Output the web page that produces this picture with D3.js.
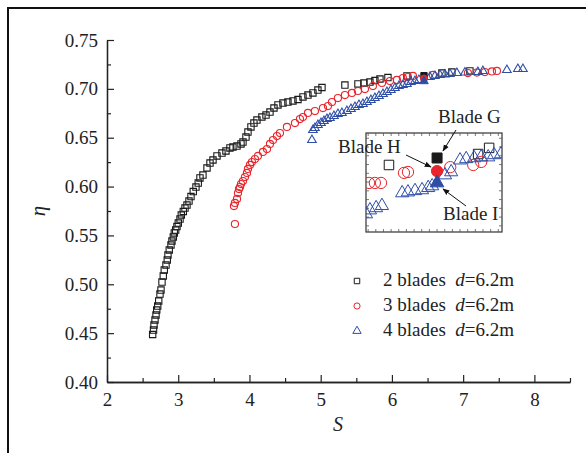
<!DOCTYPE html>
<html>
<head>
<meta charset="utf-8"/>
<script src="https://d3js.org/d3.v7.min.js"></script>
<style>
  body { margin: 0; background: #fff; }
  text { font-family: "Liberation Serif", "Times New Roman", serif; fill: #222; }
</style>
</head>
<body>
<div id="chart"></div>
<script>
// 2 blades, d = 6.2 m  [S, eta]
var twoBlades = [
  [2.641,0.4486],[2.653,0.4532],[2.660,0.4583],[2.674,0.4634],[2.688,0.4685],[2.698,0.4736],
  [2.712,0.4777],[2.726,0.4829],[2.744,0.4900],[2.758,0.4941],[2.772,0.5023],[2.790,0.5084],
  [2.804,0.5146],[2.828,0.5197],[2.846,0.5248],[2.856,0.5299],[2.874,0.5351],[2.898,0.5402],
  [2.912,0.5443],[2.931,0.5484],[2.945,0.5525],[2.964,0.5555],[2.982,0.5591],[3.001,0.5627],
  [3.025,0.5668],[3.043,0.5709],[3.071,0.5745],[3.095,0.5780],[3.123,0.5811],[3.151,0.5852],
  [3.179,0.5898],[3.211,0.5949],[3.249,0.5995],[3.281,0.6036],[3.305,0.6088],[3.347,0.6118],
  [3.404,0.6190],[3.446,0.6241],[3.488,0.6272],[3.544,0.6313],[3.614,0.6343],[3.670,0.6364],
  [3.726,0.6395],[3.768,0.6405],[3.825,0.6415],[3.881,0.6436],[3.909,0.6456],[3.951,0.6507],
  [3.979,0.6558],[4.021,0.6610],[4.063,0.6650],[4.105,0.6681],[4.175,0.6712],[4.232,0.6732],
  [4.288,0.6763],[4.344,0.6804],[4.400,0.6835],[4.470,0.6855],[4.540,0.6865],[4.611,0.6876],
  [4.681,0.6891],[4.751,0.6917],[4.821,0.6937],[4.891,0.6958],[4.961,0.6988],[5.018,0.7014],
  [5.340,0.7039],[5.523,0.7050],[5.607,0.7060],[5.691,0.7070],[5.761,0.7085],[5.832,0.7101],
  [5.944,0.7116],[6.211,0.7132],[6.702,0.7162],[6.842,0.7172],[7.095,0.7183]
];
// 3 blades, d = 6.2 m
var threeBlades = [
  [3.796,0.5617],[3.782,0.5801],[3.796,0.5832],[3.825,0.5873],[3.839,0.5934],[3.853,0.5975],
  [3.867,0.5995],[3.881,0.6026],[3.909,0.6057],[3.937,0.6098],[3.965,0.6139],[3.979,0.6180],
  [4.007,0.6221],[4.035,0.6251],[4.077,0.6282],[4.119,0.6313],[4.189,0.6354],[4.246,0.6384],
  [4.288,0.6436],[4.330,0.6476],[4.386,0.6517],[4.428,0.6548],[4.526,0.6610],[4.639,0.6650],
  [4.709,0.6691],[4.751,0.6712],[4.821,0.6753],[4.919,0.6773],[5.032,0.6804],[5.102,0.6824],
  [5.158,0.6865],[5.242,0.6906],[5.340,0.6937],[5.439,0.6958],[5.523,0.6978],[5.621,0.6998],
  [5.733,0.7029],[5.860,0.7060],[5.972,0.7080],[6.070,0.7091],[6.154,0.7111],[6.225,0.7121],
  [6.295,0.7132],[6.575,0.7142],[7.067,0.7162],[7.193,0.7167],[7.305,0.7172],[7.404,0.7178],
  [7.474,0.7183]
];
// 4 blades, d = 6.2 m
var fourBlades = [
  [4.877,0.6476],[4.891,0.6579],[4.919,0.6599],[4.961,0.6630],[5.004,0.6650],[5.046,0.6671],
  [5.088,0.6691],[5.130,0.6702],[5.186,0.6722],[5.242,0.6743],[5.298,0.6753],[5.368,0.6773],
  [5.425,0.6794],[5.481,0.6814],[5.537,0.6835],[5.593,0.6845],[5.649,0.6865],[5.705,0.6886],
  [5.761,0.6906],[5.818,0.6927],[5.874,0.6947],[5.930,0.6968],[5.986,0.6988],[6.042,0.7009],
  [6.098,0.7029],[6.154,0.7039],[6.211,0.7050],[6.267,0.7070],[6.323,0.7080],[6.379,0.7091],
  [6.533,0.7121],[6.604,0.7132],[6.674,0.7142],[6.744,0.7147],[6.814,0.7152],[6.912,0.7162],
  [7.025,0.7167],[7.207,0.7172],[7.277,0.7183],[7.614,0.7193],[7.768,0.7203],[7.839,0.7203]
];
// highlighted blades G, H, I
var bladeNames = ["Blade G", "Blade H", "Blade I"];
var bladeS = [6.45, 6.45, 6.45];
var bladeEta = [0.7135, 0.7105, 0.7078];

// inset (zoomed region around blades G/H/I)
var insetSquares = [[6.293,0.7119],[6.584,0.7144],[6.620,0.7158]];
var insetCircles = [[6.228,0.7078],[6.247,0.7078],[6.267,0.7078],[6.342,0.7101],[6.355,0.7103],
  [6.493,0.7114],[6.568,0.7119],[6.594,0.7126]];
var insetTriangles = [[6.218,0.7007],[6.231,0.7016],[6.251,0.7021],[6.270,0.7026],[6.336,0.7055],
  [6.355,0.7057],[6.378,0.7060],[6.401,0.7062],[6.421,0.7067],[6.434,0.7071],[6.476,0.7096],
  [6.496,0.7103],[6.525,0.7130],[6.545,0.7133],[6.571,0.7135],[6.594,0.7137],[6.617,0.7137],
  [6.636,0.7142],[6.659,0.7144]];

var xTicks = [2, 3, 4, 5, 6, 7, 8];
var yTicks = [0.40, 0.45, 0.50, 0.55, 0.60, 0.65, 0.70, 0.75];
var legendLabels = ["2 blades  ", "3 blades  ", "4 blades  "];

var W = 586, H = 453;
var svg = d3.select("#chart").append("svg").attr("width", W).attr("height", H);

// outer frame
svg.append("rect").attr("x", 8).attr("y", 8).attr("width", 700).attr("height", 600)
  .attr("fill", "none").attr("stroke", "#111").attr("stroke-width", 2);

var x = d3.scaleLinear().domain([2, 8.5]).range([107, 570]);
var y = d3.scaleLinear().domain([0.40, 0.75]).range([382, 40]);

var black = "#1a1a1a", red = "#e8262d", blue = "#2e4ea6";

// axes
svg.append("g").attr("transform", "translate(0,382)")
  .call(d3.axisBottom(x).tickValues(xTicks).tickFormat(d3.format("d")).tickSizeInner(-7).tickSizeOuter(0).tickPadding(11));
svg.append("g").attr("transform", "translate(0,382)")
  .call(d3.axisBottom(x).tickValues([2.5, 3.5, 4.5, 5.5, 6.5, 7.5, 8.5]).tickFormat("").tickSizeInner(-4).tickSizeOuter(0));
svg.append("g").attr("transform", "translate(107,0)")
  .call(d3.axisLeft(y).tickValues(yTicks).tickFormat(d3.format(".2f")).tickSizeInner(-7).tickSizeOuter(0).tickPadding(9));
svg.append("g").attr("transform", "translate(107,0)")
  .call(d3.axisLeft(y).tickValues([0.425, 0.475, 0.525, 0.575, 0.625, 0.675, 0.725]).tickFormat("").tickSizeInner(-4).tickSizeOuter(0));
svg.selectAll(".domain").attr("stroke", "#222").attr("stroke-width", 1.3);
svg.selectAll(".tick line").attr("stroke", "#222").attr("stroke-width", 1.2);
svg.selectAll(".tick text").style("font-size", "19px").attr("fill", "#222");

svg.append("text").attr("x", 338).attr("y", 431).attr("text-anchor", "middle")
  .style("font-size", "20px").style("font-style", "italic").text("S");
svg.append("text").attr("transform", "translate(45,211) rotate(-90)").attr("text-anchor", "middle")
  .style("font-size", "21px").style("font-style", "italic").text("η");

function drawSeries(g, data, sx, sy, type, size, color, fill, sw) {
  g.selectAll(null).data(data).enter().append("path")
    .attr("transform", function(d) { return "translate(" + sx(d[0]) + "," + sy(d[1]) + ")"; })
    .attr("d", d3.symbol().type(type).size(size))
    .attr("fill", fill ? color : "none")
    .attr("stroke", color).attr("stroke-width", sw || 1);
}

var main = svg.append("g");
drawSeries(main, twoBlades, x, y, d3.symbolSquare, 40, black, false, 1.1);
drawSeries(main, threeBlades, x, y, d3.symbolCircle, 40, red, false, 1.1);
drawSeries(main, fourBlades, x, y, d3.symbolTriangle, 32, blue, false, 1.1);
var types = [d3.symbolSquare, d3.symbolCircle, d3.symbolTriangle];
var colors = [black, red, blue];
bladeS.forEach(function(s, i) {
  drawSeries(main, [[s, bladeEta[i]]], x, y, types[i], i == 2 ? 32 : 40, colors[i], true);
});

// inset
var ix = d3.scaleLinear().domain([6.218, 6.662]).range([366, 502]);
var iy = d3.scaleLinear().domain([0.6966, 0.7192]).range([232, 133]);
svg.append("clipPath").attr("id", "insetClip").append("rect")
  .attr("x", 366).attr("y", 133).attr("width", 136).attr("height", 99);
svg.append("rect").attr("x", 366).attr("y", 133).attr("width", 136).attr("height", 99)
  .attr("fill", "#fff").attr("stroke", "#333").attr("stroke-width", 1.2);
var ixt = d3.range(6.225, 6.662, 0.025), iyt = d3.range(0.698, 0.7192, 0.002);
var insetTicks = svg.append("g").attr("stroke", "#555").attr("stroke-width", 0.8);
ixt.forEach(function(t) {
  insetTicks.append("line").attr("x1", ix(t)).attr("x2", ix(t)).attr("y1", 232).attr("y2", 229);
  insetTicks.append("line").attr("x1", ix(t)).attr("x2", ix(t)).attr("y1", 133).attr("y2", 136);
});
iyt.forEach(function(t) {
  insetTicks.append("line").attr("x1", 366).attr("x2", 369).attr("y1", iy(t)).attr("y2", iy(t));
  insetTicks.append("line").attr("x1", 502).attr("x2", 499).attr("y1", iy(t)).attr("y2", iy(t));
});
var inset = svg.append("g").attr("clip-path", "url(#insetClip)");
drawSeries(inset, insetSquares, ix, iy, d3.symbolSquare, 90, black, false);
drawSeries(inset, insetCircles, ix, iy, d3.symbolCircle, 100, red, false);
drawSeries(inset, insetTriangles, ix, iy, d3.symbolTriangle, 75, blue, false);
bladeS.forEach(function(s, i) {
  drawSeries(inset, [[s, bladeEta[i]]], ix, iy, types[i], i == 2 ? 80 : 100, colors[i], true);
});

// annotations
svg.append("defs").append("marker").attr("id", "arr").attr("viewBox", "0 0 10 10")
  .attr("refX", 9).attr("refY", 5).attr("markerWidth", 7).attr("markerHeight", 7).attr("orient", "auto")
  .append("path").attr("d", "M0,1 L10,5 L0,9 Z").attr("fill", "#111");
var notes = [
  { text: bladeNames[0], tx: 438, ty: 123, x1: 456, y1: 130, x2: 443, y2: 151 },
  { text: bladeNames[1], tx: 338, ty: 153, x1: 406, y1: 155, x2: 431, y2: 167 },
  { text: bladeNames[2], tx: 443, ty: 220, x1: 466, y1: 206, x2: 443, y2: 189 }
];
notes.forEach(function(n) {
  svg.append("line").attr("x1", n.x1).attr("y1", n.y1).attr("x2", n.x2).attr("y2", n.y2)
    .attr("stroke", "#111").attr("stroke-width", 1).attr("marker-end", "url(#arr)");
  svg.append("text").attr("x", n.tx).attr("y", n.ty).style("font-size", "19px").text(n.text);
});

// legend
var leg = svg.append("g");
legendLabels.forEach(function(lab, i) {
  var ly = 281 + i * 25;
  drawSeries(leg, [[0, 0]], function() { return 357; }, function() { return ly; }, types[i], 30, colors[i], false);
  var t = leg.append("text").attr("x", 383).attr("y", ly + 5).style("font-size", "19px").attr("xml:space", "preserve");
  t.append("tspan").text(lab);
  t.append("tspan").style("font-style", "italic").text("d");
  t.append("tspan").text("=6.2m");
});
</script>
</body>
</html>
